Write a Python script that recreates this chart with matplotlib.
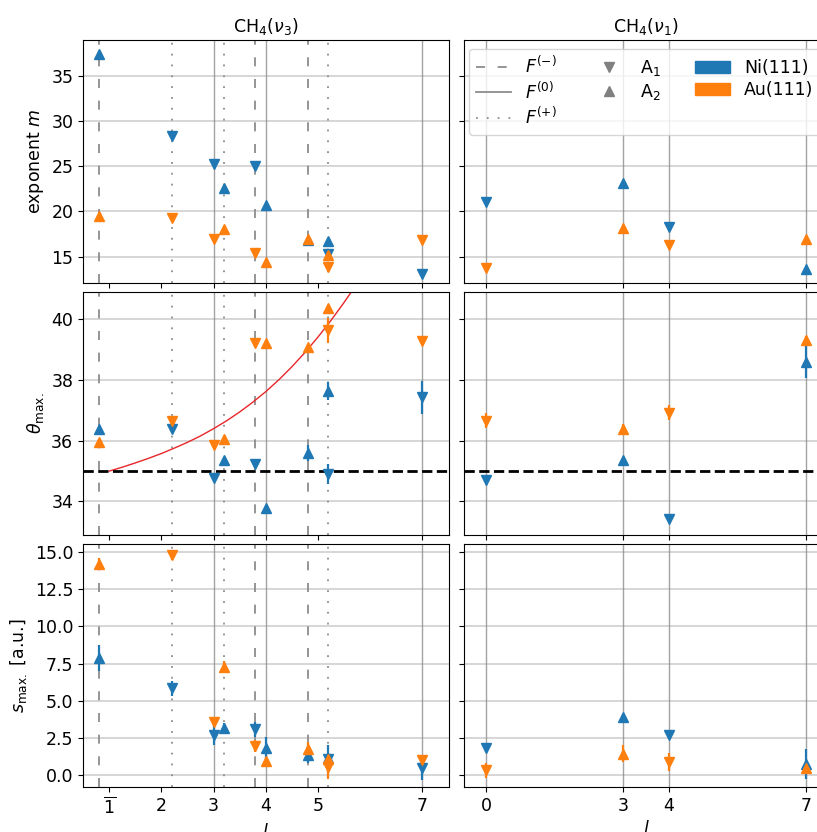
import matplotlib.pyplot as plt
from matplotlib.lines import Line2D
from matplotlib.patches import Patch

plt.rcParams['font.size'] = 12.5

# CH4(nu3) data, x positions are l shifted by the F branch
x_v3 = [0.8, 2.2, 3.0, 3.2, 3.8, 4.0, 4.8, 5.2, 5.2, 7.0]
sym_v3 = ['A2', 'A1', 'A1', 'A2', 'A1', 'A2', 'A2', 'A2', 'A1', 'A1']

m_ni_v3 = [37.4, 28.3, 25.3, 22.6, 25.0, 20.7, 16.8, 16.7, 15.3, 13.1]
m_ni_v3_err = [0.1, 0.1, 0.1, 0.1, 0.1, 0.1, 0.1, 0.2, 0.5, 0.1]
m_au_v3 = [19.5, 19.3, 16.9, 18.1, 15.4, 14.4, 16.9, 15.2, 13.8, 16.85]
m_au_v3_err = [0.1, 0.1, 0.1, 0.1, 0.1, 0.1, 0.1, 0.3, 0.2, 0.1]

theta_ni_v3 = [36.4, 36.4, 34.78, 35.36, 35.24, 33.77, 35.6, 37.65, 34.9, 37.43]
theta_ni_v3_err = [0.05, 0.1, 0.05, 0.1, 0.05, 0.05, 0.25, 0.3, 0.33, 0.55]
theta_au_v3 = [35.96, 36.64, 35.87, 36.07, 39.21, 39.24, 39.1, 40.39, 39.65, 39.29]
theta_au_v3_err = [0.1, 0.1, 0.1, 0.1, 0.1, 0.05, 0.1, 0.1, 0.41, 0.1]

s_ni_v3 = [7.84, 5.83, 2.7, 3.21, 3.08, 1.85, 1.4, 1.14, 1.1, 0.47]
s_ni_v3_err = [0.87, 0.5, 0.67, 0.3, 0.5, 0.75, 0.6, 0.9, 0.3, 0.8]
s_au_v3 = [14.2, 14.75, 3.59, 7.28, 2.0, 0.96, 1.76, 1.1, 0.54, 1.02]
s_au_v3_err = [0.4, 0.3, 0.3, 0.4, 0.4, 0.3, 0.5, 0.3, 0.75, 0.3]

# CH4(nu1) data
x_v1 = [0, 3, 4, 7]
sym_v1 = ['A1', 'A2', 'A1', 'A2']

m_ni_v1 = [21.0, 23.1, 18.3, 13.6]
m_ni_v1_err = [0.1, 0.1, 0.1, 0.1]
m_au_v1 = [13.7, 18.2, 16.3, 16.9]
m_au_v1_err = [0.1, 0.1, 0.1, 0.1]

theta_ni_v1 = [34.72, 35.38, 33.43, 38.61]
theta_ni_v1_err = [0.05, 0.05, 0.05, 0.55]
theta_au_v1 = [36.66, 36.39, 36.93, 39.32]
theta_au_v1_err = [0.25, 0.15, 0.25, 0.15]

s_ni_v1 = [1.85, 3.93, 2.74, 0.74]
s_ni_v1_err = [0.3, 0.2, 0.3, 1.0]
s_au_v1 = [0.36, 1.47, 0.91, 0.51]
s_au_v1_err = [0.5, 0.6, 0.6, 0.4]

# F branch reference lines
f_minus_v3 = [0.8, 3.8, 4.8]
f_zero_v3 = [3, 4, 7]
f_plus_v3 = [2.2, 3.2, 5.2]
f_zero_v1 = [0, 3, 4, 7]

# red guide curve in the theta panel
curve_x = [1.0, 1.25, 1.5, 1.75, 2.0, 2.25, 2.5, 2.75, 3.0, 3.25, 3.5, 3.75,
           4.0, 4.25, 4.5, 4.75, 5.0, 5.25, 5.5, 5.75]
curve_y = [35.00, 35.13, 35.27, 35.42, 35.58, 35.76, 35.95, 36.16, 36.40, 36.66,
           36.95, 37.27, 37.62, 38.01, 38.44, 38.91, 39.42, 39.97, 40.56, 41.19]

xticks_v3 = [1, 2, 3, 4, 5, 7]
xticklabels_v3 = [r'$\overline{1}$', '2', '3', '4', '5', '7']
xticks_v1 = [0, 3, 4, 7]

NI = '#1f77b4'
AU = '#ff7f0e'
LINE_GRAY = '#8c8c8c'

fig, axes = plt.subplots(3, 2, figsize=(8.17, 8.32), dpi=100, sharex='col', sharey='row')
fig.subplots_adjust(left=0.1016, right=1.0147, bottom=0.054, top=0.952,
                    wspace=0.041, hspace=0.039)


def draw_points(ax, x, sym, vals, errs, color):
    for s, mk in [('A1', 'v'), ('A2', '^')]:
        idx = [i for i in range(len(x)) if sym[i] == s]
        if not idx:
            continue
        ax.errorbar([x[i] for i in idx], [vals[i] for i in idx],
                    yerr=[errs[i] for i in idx], fmt=mk, color=color,
                    ms=7.5, elinewidth=1.6, capsize=0, zorder=3)


def ref_lines(ax, minus, zero, plus):
    for xv in minus:
        ax.axvline(xv, color=LINE_GRAY, lw=1.3, ls=(0, (5, 7)), zorder=1)
    for xv in zero:
        ax.axvline(xv, color=LINE_GRAY, lw=1.0, ls='-', alpha=0.8, zorder=1)
    for xv in plus:
        ax.axvline(xv, color=LINE_GRAY, lw=1.3, ls=(0, (1, 5)), zorder=1)


left_data = [
    (m_ni_v3, m_ni_v3_err, m_au_v3, m_au_v3_err),
    (theta_ni_v3, theta_ni_v3_err, theta_au_v3, theta_au_v3_err),
    (s_ni_v3, s_ni_v3_err, s_au_v3, s_au_v3_err),
]
right_data = [
    (m_ni_v1, m_ni_v1_err, m_au_v1, m_au_v1_err),
    (theta_ni_v1, theta_ni_v1_err, theta_au_v1, theta_au_v1_err),
    (s_ni_v1, s_ni_v1_err, s_au_v1, s_au_v1_err),
]

for row in range(3):
    axl, axr = axes[row]
    ref_lines(axl, f_minus_v3, f_zero_v3, f_plus_v3)
    ref_lines(axr, [], f_zero_v1, [])
    ni, ni_e, au, au_e = left_data[row]
    draw_points(axl, x_v3, sym_v3, ni, ni_e, NI)
    draw_points(axl, x_v3, sym_v3, au, au_e, AU)
    ni, ni_e, au, au_e = right_data[row]
    draw_points(axr, x_v1, sym_v1, ni, ni_e, NI)
    draw_points(axr, x_v1, sym_v1, au, au_e, AU)
    for ax in (axl, axr):
        ax.grid(axis='y', color='#d0d0d0', lw=1.2, zorder=0)
        ax.set_axisbelow(True)

# theta panels
axes[1, 0].plot(curve_x, curve_y, color='#e8262a', lw=1.0, zorder=2)
for ax in axes[1]:
    ax.axhline(35, color='black', lw=2, ls='--', zorder=2)

axes[0, 0].set_ylim(12.1, 39.0)
axes[0, 0].set_yticks([15, 20, 25, 30, 35])
axes[1, 0].set_ylim(32.9, 40.9)
axes[1, 0].set_yticks([34, 36, 38, 40])
axes[2, 0].set_ylim(-0.78, 15.49)
axes[2, 0].set_yticks([0, 2.5, 5, 7.5, 10, 12.5, 15])
axes[2, 0].set_yticklabels(['0.0', '2.5', '5.0', '7.5', '10.0', '12.5', '15.0'])

axes[2, 0].set_xlim(0.5, 7.5)
axes[2, 0].set_xticks(xticks_v3)
axes[2, 0].set_xticklabels(xticklabels_v3)
axes[2, 1].set_xlim(-0.5, 7.5)
axes[2, 1].set_xticks(xticks_v1)

axes[0, 0].set_ylabel('exponent $m$')
axes[1, 0].set_ylabel(r'$\theta_{\mathrm{max.}}$')
axes[2, 0].set_ylabel(r'$s_{\mathrm{max.}}$ [a.u.]')
axes[2, 0].set_xlabel('$l$')
axes[2, 1].set_xlabel('$l$')

axes[0, 0].set_title(r'CH$_4$($\nu_3$)', fontsize=12.5)
axes[0, 1].set_title(r'CH$_4$($\nu_1$)', fontsize=12.5)

handles = [
    Line2D([], [], color=LINE_GRAY, lw=1.3, ls=(0, (5, 7))),
    Line2D([], [], color=LINE_GRAY, lw=1.3, ls='-'),
    Line2D([], [], color=LINE_GRAY, lw=1.3, ls=(0, (1, 5))),
    Line2D([], [], color='#808080', marker='v', ls='none', ms=6.5),
    Line2D([], [], color='#808080', marker='^', ls='none', ms=6.5),
    Patch(color=NI),
    Patch(color=AU),
]
labels = ['$F^{(-)}$', '$F^{(0)}$', '$F^{(+)}$', 'A$_1$', 'A$_2$', 'Ni(111)', 'Au(111)']
axes[0, 1].legend(handles, labels, loc='upper right', ncol=3, fontsize=12.5,
                  labelspacing=0.25)

fig.savefig('out.png', dpi=100)
